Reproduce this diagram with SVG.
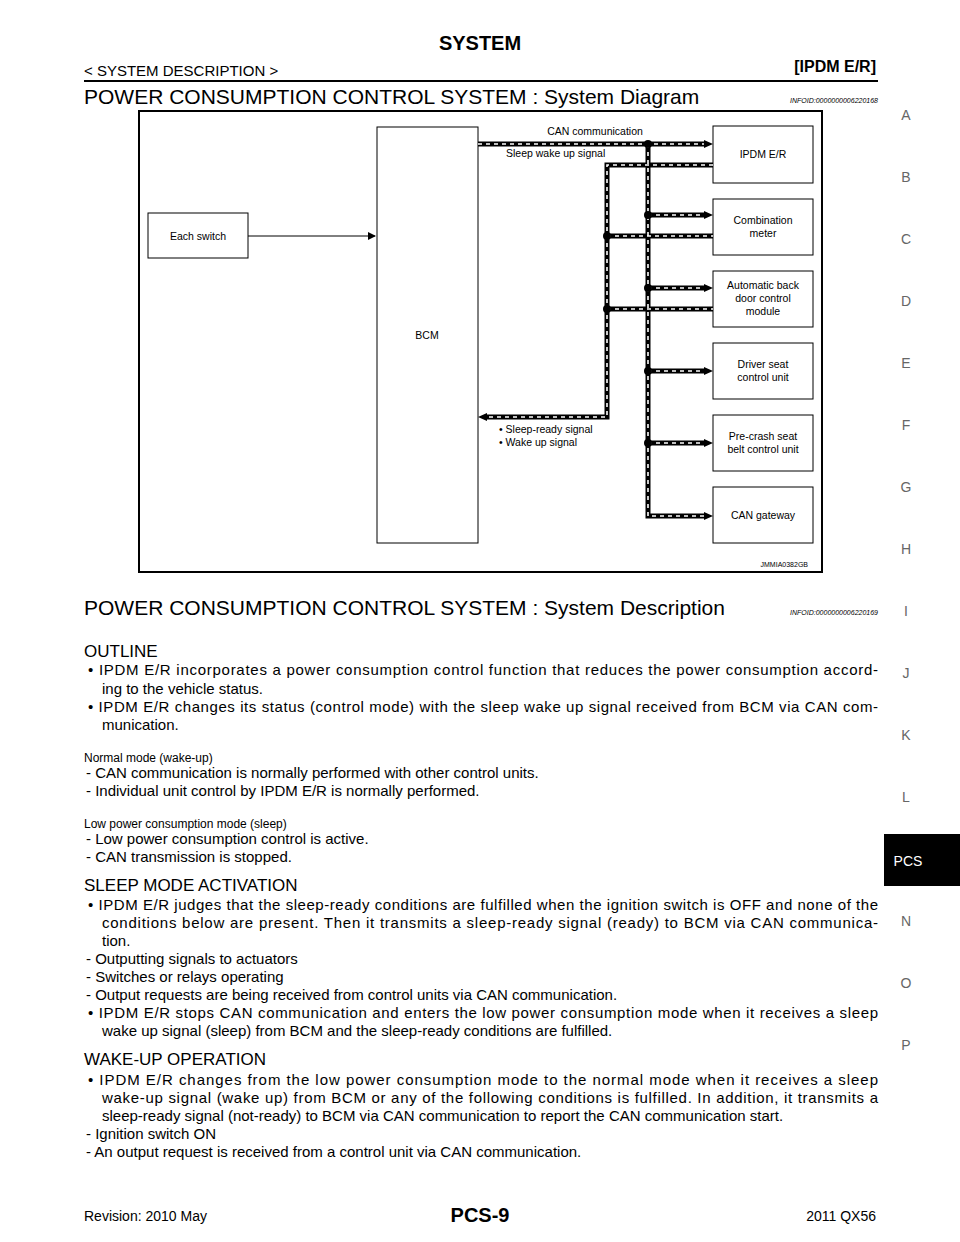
<svg xmlns="http://www.w3.org/2000/svg" width="960" height="1242" viewBox="0 0 960 1242">
<style>
text{font-family:"Liberation Sans",Arial,sans-serif;fill:#000}
.b{fill:#fff;stroke:#000;stroke-width:1}
.n{font-size:10.5px;text-anchor:middle}
.blk{fill:none;stroke:#000;stroke-width:5}
.wht{fill:none;stroke:#fff;stroke-width:1.6;stroke-dasharray:4 4}
.p{font-size:15px}
.side{font-size:14px;fill:#666;text-anchor:middle}
</style>
<defs>
<marker id="ah" markerWidth="8" markerHeight="8" refX="7" refY="4" orient="auto" markerUnits="userSpaceOnUse"><path d="M0,0L8,4L0,8z" fill="#000"/></marker>
</defs>
<text x="480" y="50" font-size="20" font-weight="bold" text-anchor="middle">SYSTEM</text>
<text x="84" y="76" font-size="15">&lt; SYSTEM DESCRIPTION &gt;</text>
<text x="876" y="72" font-size="16" font-weight="bold" text-anchor="end">[IPDM E/R]</text>
<line x1="84" y1="81" x2="878" y2="81" stroke="#000" stroke-width="2"/>
<text x="84" y="104" font-size="21">POWER CONSUMPTION CONTROL SYSTEM : System Diagram</text>
<text x="878" y="103" font-size="7" font-style="italic" text-anchor="end">INFOID:0000000006220168</text>
<rect x="139" y="111" width="683" height="461" fill="#fff" stroke="#000" stroke-width="2"/>
<g id="each-switch"><rect class="b" x="148" y="213" width="100" height="45"/><text class="n" x="198" y="240">Each switch</text></g>
<g id="bcm"><rect class="b" x="377" y="127" width="101" height="416"/><text class="n" x="427" y="339">BCM</text></g>
<g id="ipdm"><rect class="b" x="713" y="126" width="100" height="57"/><text class="n" x="763" y="158">IPDM E/R</text></g>
<g id="combination-meter"><rect class="b" x="713" y="199" width="100" height="56"/><text class="n" x="763" y="224">Combination</text><text class="n" x="763" y="237">meter</text></g>
<g id="abdcm"><rect class="b" x="713" y="271" width="100" height="56"/><text class="n" x="763" y="289">Automatic back</text><text class="n" x="763" y="302">door control</text><text class="n" x="763" y="315">module</text></g>
<g id="driver-seat"><rect class="b" x="713" y="343" width="100" height="56"/><text class="n" x="763" y="368">Driver seat</text><text class="n" x="763" y="381">control unit</text></g>
<g id="pre-crash"><rect class="b" x="713" y="415" width="100" height="56"/><text class="n" x="763" y="440">Pre-crash seat</text><text class="n" x="763" y="453">belt control unit</text></g>
<g id="can-gateway"><rect class="b" x="713" y="487" width="100" height="56"/><text class="n" x="763" y="519">CAN gateway</text></g>
<g id="connectors">
<line x1="248" y1="236" x2="375" y2="236" stroke="#000" stroke-width="1" marker-end="url(#ah)"/>
<path class="blk" d="M478,144H705 M648,144V516H705 M648,215H705 M648,288H705 M648,371H705 M648,443H705"/>
<path class="blk" d="M713,165H607V417H486 M607,236H713 M607,309H713"/>
<path class="wht" d="M478,144H705 M648,144V516H705 M648,215H705 M648,288H705 M648,371H705 M648,443H705"/>
<path class="wht" d="M713,165H607V417H486 M607,236H713 M607,309H713"/>
<path d="M704,140L713,144L704,148z M704,211L713,215L704,219z M704,284L713,288L704,292z M704,367L713,371L704,375z M704,439L713,443L704,447z M704,512L713,516L704,520z M487,413L478,417L487,421z" fill="#000"/>
<g fill="#000"><circle cx="648" cy="144" r="4"/><circle cx="648" cy="215" r="4"/><circle cx="648" cy="288" r="4"/><circle cx="648" cy="371" r="4"/><circle cx="648" cy="443" r="4"/><circle cx="607" cy="236" r="4"/><circle cx="607" cy="309" r="4"/></g>
<text x="595" y="135" font-size="10.5" text-anchor="middle">CAN communication</text>
<text x="506" y="157" font-size="10.5">Sleep wake up signal</text>
<text x="499" y="433" font-size="10.5">• Sleep-ready signal</text>
<text x="499" y="446" font-size="10.5">• Wake up signal</text>
</g>
<text x="808" y="567" font-size="7" text-anchor="end">JMMIA0382GB</text>
<text x="84" y="615" font-size="21">POWER CONSUMPTION CONTROL SYSTEM : System Description</text>
<text x="878" y="615" font-size="7" font-style="italic" text-anchor="end">INFOID:0000000006220169</text>
<text x="84" y="657" font-size="17">OUTLINE</text>
<text class="p" x="88" y="675" textLength="790" lengthAdjust="spacing">• IPDM E/R incorporates a power consumption control function that reduces the power consumption accord-</text>
<text class="p" x="102" y="694">ing to the vehicle status.</text>
<text class="p" x="88" y="712" textLength="790" lengthAdjust="spacing">• IPDM E/R changes its status (control mode) with the sleep wake up signal received from BCM via CAN com-</text>
<text class="p" x="102" y="730">munication.</text>
<text x="84" y="762" font-size="12">Normal mode (wake-up)</text>
<text class="p" x="86" y="778">- CAN communication is normally performed with other control units.</text>
<text class="p" x="86" y="796">- Individual unit control by IPDM E/R is normally performed.</text>
<text x="84" y="828" font-size="12">Low power consumption mode (sleep)</text>
<text class="p" x="86" y="844">- Low power consumption control is active.</text>
<text class="p" x="86" y="862">- CAN transmission is stopped.</text>
<text x="84" y="891" font-size="17">SLEEP MODE ACTIVATION</text>
<text class="p" x="88" y="910" textLength="790" lengthAdjust="spacing">• IPDM E/R judges that the sleep-ready conditions are fulfilled when the ignition switch is OFF and none of the</text>
<text class="p" x="102" y="928" textLength="776" lengthAdjust="spacing">conditions below are present. Then it transmits a sleep-ready signal (ready) to BCM via CAN communica-</text>
<text class="p" x="102" y="946">tion.</text>
<text class="p" x="86" y="964">- Outputting signals to actuators</text>
<text class="p" x="86" y="982">- Switches or relays operating</text>
<text class="p" x="86" y="1000">- Output requests are being received from control units via CAN communication.</text>
<text class="p" x="88" y="1018" textLength="790" lengthAdjust="spacing">• IPDM E/R stops CAN communication and enters the low power consumption mode when it receives a sleep</text>
<text class="p" x="102" y="1036">wake up signal (sleep) from BCM and the sleep-ready conditions are fulfilled.</text>
<text x="84" y="1065" font-size="17">WAKE-UP OPERATION</text>
<text class="p" x="88" y="1085" textLength="790" lengthAdjust="spacing">• IPDM E/R changes from the low power consumption mode to the normal mode when it receives a sleep</text>
<text class="p" x="102" y="1103" textLength="776" lengthAdjust="spacing">wake-up signal (wake up) from BCM or any of the following conditions is fulfilled. In addition, it transmits a</text>
<text class="p" x="102" y="1121">sleep-ready signal (not-ready) to BCM via CAN communication to report the CAN communication start.</text>
<text class="p" x="86" y="1139">- Ignition switch ON</text>
<text class="p" x="86" y="1157">- An output request is received from a control unit via CAN communication.</text>
<text x="84" y="1221" font-size="14">Revision: 2010 May</text>
<text x="480" y="1222" font-size="20" font-weight="bold" text-anchor="middle">PCS-9</text>
<text x="876" y="1221" font-size="14" text-anchor="end">2011 QX56</text>
<g class="side-letters">
<text class="side" x="906" y="120">A</text><text class="side" x="906" y="182">B</text><text class="side" x="906" y="244">C</text><text class="side" x="906" y="306">D</text><text class="side" x="906" y="368">E</text><text class="side" x="906" y="430">F</text><text class="side" x="906" y="492">G</text><text class="side" x="906" y="554">H</text><text class="side" x="906" y="616">I</text><text class="side" x="906" y="678">J</text><text class="side" x="906" y="740">K</text><text class="side" x="906" y="802">L</text><text class="side" x="906" y="926">N</text><text class="side" x="906" y="988">O</text><text class="side" x="906" y="1050">P</text>
</g>
<rect x="884" y="834" width="76" height="52" fill="#000"/>
<text x="908" y="866" font-size="14" style="fill:#fff" text-anchor="middle">PCS</text>
</svg>
